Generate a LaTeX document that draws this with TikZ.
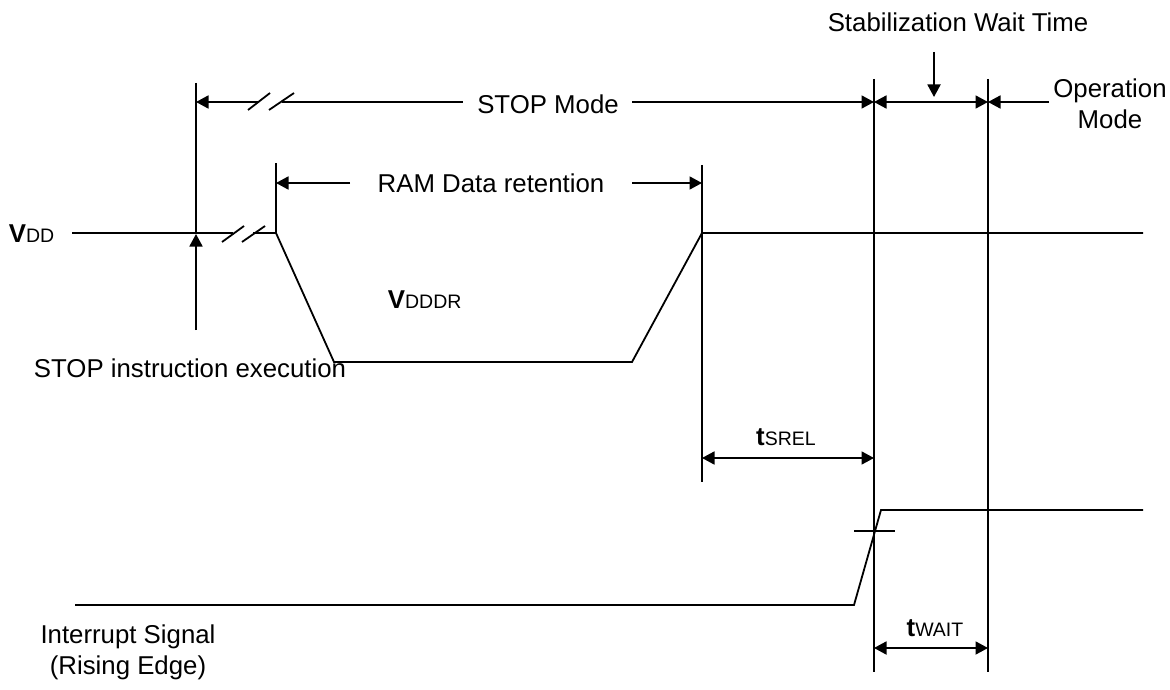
\documentclass[tikz,border=0pt]{standalone}
\usepackage{fontspec}
\setmainfont{Liberation Sans}
\usetikzlibrary{arrows.meta}
\newcommand{\subsz}[1]{{\fontsize{19.5}{22}\selectfont #1}}
\begin{document}
\begin{tikzpicture}[x=1pt,y=-1pt, line width=1.8pt,
  lbl/.style={font=\fontsize{25.8}{31}\selectfont, inner sep=0pt},
  tip/.style={-{Triangle[length=12.5pt,width=13pt]}},
  dtip/.style={{Triangle[length=12.5pt,width=13pt]}-{Triangle[length=12.5pt,width=13pt]}},
]
\useasboundingbox (0,0) rectangle (1170,690);

% ---------- labels ----------
\node[lbl] (stab) at (958,22) {Stabilization Wait Time};
\node[lbl, anchor=base] (stopmode) at (548,114) {STOP Mode};
\node[lbl, align=center] (opmode) at (1110,104) {Operation\\Mode};
\node[lbl, anchor=base] (ram) at (491,193) {RAM Data retention};
\node[lbl, anchor=base west] (vdd) at (8,242) {\textbf{V}\subsz{DD}};
\node[lbl, anchor=base west] (vdddr) at (387,308) {\textbf{V}\subsz{DDDR}};
\node[lbl] (stopins) at (190,368) {STOP instruction execution};
\node[lbl, anchor=base] (tsrel) at (786,445) {\textbf{t}\subsz{SREL}};
\node[lbl, anchor=base] (twait) at (935,636) {\textbf{t}\subsz{WAIT}};
\node[lbl, align=center] (intsig) at (128,652) {Interrupt Signal\\(Rising Edge)};

% ---------- coordinates ----------
\coordinate (vddL) at (72,233);
\coordinate (brA) at (233,233);
\coordinate (brB) at (253,233);
\coordinate (fallTop) at (276,233);
\coordinate (fallBot) at (334,362);
\coordinate (riseBot) at (632,362);
\coordinate (riseTop) at (702,233);
\coordinate (vddR) at (1143,233);

% ---------- VDD waveform ----------
\draw (vddL) -- (brA);
\draw (brB) -- (fallTop) -- (fallBot) -- (riseBot) -- (riseTop) -- (vddR);
\draw[line width=2.4pt] (1013,233) -- (vddR);
\draw (222,242) -- (244,226);
\draw (242,242) -- (265,226);

% vertical markers
\draw (196,83) -- (196,233);
\draw (fallTop) -- (276,163);
\draw (702,165) -- (702,482);
\draw (874,79) -- (874,672);
\draw (988,79) -- (988,672);

% STOP instruction arrow
\draw[tip] (196,330) -- (196,234);

% STOP Mode dimension
\draw[tip] (259,102) -- (196,102);
\draw (248,110) -- (270,93);
\draw (269,110) -- (294,93);
\draw (282,102) -- (463,102);
\draw[tip] (632,102) -- (874,102);

% Stabilization wait time
\draw[dtip] (874,102) -- (988,102);
\draw[tip] (934,52) -- (934,97);
\draw[tip] (1049,102) -- (988,102);

% RAM data retention
\draw[tip] (350,183) -- (276,183);
\draw[tip] (632,183) -- (702,183);

% tSREL
\draw[dtip] (702,458) -- (874,458);

% Interrupt signal
\draw (75,605) -- (854,605) -- (881,510) -- (1143,510);
\draw (854,531) -- (895,531);

% tWAIT
\draw[dtip] (874,648) -- (988,648);
\end{tikzpicture}
\end{document}
